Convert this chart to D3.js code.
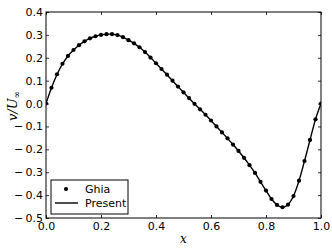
<!DOCTYPE html>
<html>
<head>
<meta charset="utf-8">
<script src="https://cdn.jsdelivr.net/npm/d3@7"></script>
<style>
  html, body { margin: 0; padding: 0; background: #fff; }
  svg { display: block; }
  .tick text { font-family: "DejaVu Sans", sans-serif; font-size: 11px; fill: #000; }
</style>
</head>
<body>
<svg id="chart" width="332" height="249"></svg>
<script>
// x positions along the horizontal centre line
const ghiaX = [0.00, 0.02, 0.04, 0.06, 0.08, 0.10, 0.12, 0.14, 0.16, 0.18,
               0.20, 0.22, 0.24, 0.26, 0.28, 0.30, 0.32, 0.34, 0.36, 0.38,
               0.40, 0.42, 0.44, 0.46, 0.48, 0.50, 0.52, 0.54, 0.56, 0.58,
               0.60, 0.62, 0.64, 0.66, 0.68, 0.70, 0.72, 0.74, 0.76, 0.78,
               0.80, 0.82, 0.84, 0.86, 0.88, 0.90, 0.92, 0.94, 0.96, 0.98, 1.00];
const ghiaV = [0.000, 0.069, 0.128, 0.174, 0.208, 0.234, 0.255, 0.272, 0.285, 0.294,
               0.300, 0.303, 0.303, 0.299, 0.290, 0.277, 0.263, 0.246, 0.225, 0.201,
               0.176, 0.151, 0.126, 0.100, 0.074, 0.049, 0.024, -0.001, -0.025, -0.049,
               -0.074, -0.100, -0.126, -0.152, -0.179, -0.207, -0.237, -0.269, -0.303, -0.342,
               -0.380, -0.417, -0.443, -0.453, -0.442, -0.404, -0.337, -0.251, -0.159, -0.069, 0.000];

// present solution (fine curve)
const presentX = ghiaX;
const presentV = [0.000, 0.069, 0.127, 0.173, 0.208, 0.234, 0.255, 0.272, 0.285, 0.294,
                  0.300, 0.303, 0.303, 0.299, 0.290, 0.277, 0.263, 0.246, 0.225, 0.201,
                  0.176, 0.151, 0.126, 0.100, 0.074, 0.049, 0.024, -0.001, -0.025, -0.049,
                  -0.074, -0.100, -0.126, -0.152, -0.179, -0.207, -0.237, -0.269, -0.303, -0.342,
                  -0.380, -0.417, -0.443, -0.453, -0.442, -0.404, -0.337, -0.251, -0.159, -0.069, 0.000];

const xTicks = [0.0, 0.2, 0.4, 0.6, 0.8, 1.0];
const yTicks = [-0.5, -0.4, -0.3, -0.2, -0.1, 0.0, 0.1, 0.2, 0.3, 0.4];
const seriesNames = ["Ghia", "Present"];

const svg = d3.select("#chart");
const m = {left: 46, right: 321, top: 12, bottom: 218};

const x = d3.scaleLinear().domain([0, 1]).range([m.left, m.right]);
const y = d3.scaleLinear().domain([-0.5, 0.4]).range([m.bottom, m.top]);

svg.append("rect").attr("width", 332).attr("height", 249).attr("fill", "#fff");

svg.append("clipPath").attr("id", "plot-clip")
    .append("rect")
    .attr("x", m.left).attr("y", m.top)
    .attr("width", m.right - m.left).attr("height", m.bottom - m.top);

// mathtext-style minus sits a little apart from the digits
const fmt = d => d < 0 ? "\u2212\u2009" + d3.format(".1f")(-d) : d3.format(".1f")(d);
const tick = 3;

// axes, ticks pointing inward on all four sides
svg.append("g")
    .attr("transform", `translate(0,${m.bottom})`)
    .call(d3.axisBottom(x).tickValues(xTicks).tickFormat(fmt).tickSizeInner(-tick).tickSizeOuter(0).tickPadding(4))
    .call(g => g.select(".domain").remove());
svg.append("g")
    .attr("transform", `translate(0,${m.top})`)
    .call(d3.axisTop(x).tickValues(xTicks).tickFormat("").tickSizeInner(-tick).tickSizeOuter(0))
    .call(g => g.select(".domain").remove());
svg.append("g")
    .attr("transform", `translate(${m.left},0)`)
    .call(d3.axisLeft(y).tickValues(yTicks).tickFormat(fmt).tickSizeInner(-tick).tickSizeOuter(0).tickPadding(3))
    .call(g => g.select(".domain").remove());
svg.append("g")
    .attr("transform", `translate(${m.right},0)`)
    .call(d3.axisRight(y).tickValues(yTicks).tickFormat("").tickSizeInner(-tick).tickSizeOuter(0))
    .call(g => g.select(".domain").remove());

svg.selectAll(".tick line").attr("stroke", "#000").attr("stroke-width", 0.8);

// plot frame
svg.append("rect")
    .attr("x", m.left).attr("y", m.top)
    .attr("width", m.right - m.left).attr("height", m.bottom - m.top)
    .attr("fill", "none").attr("stroke", "#000").attr("stroke-width", 1);

const plot = svg.append("g").attr("clip-path", "url(#plot-clip)");

const line = d3.line()
    .x((d, i) => x(presentX[i]))
    .y(d => y(d))
    .curve(d3.curveCatmullRom.alpha(0.5));

plot.append("path")
    .datum(presentV)
    .attr("d", line)
    .attr("fill", "none")
    .attr("stroke", "#000")
    .attr("stroke-width", 1.4);

plot.selectAll("circle.ghia")
    .data(ghiaV)
    .join("circle")
    .attr("class", "ghia")
    .attr("cx", (d, i) => x(ghiaX[i]))
    .attr("cy", d => y(d))
    .attr("r", 2.1)
    .attr("fill", "#000");

// axis labels
svg.append("text")
    .attr("x", (m.left + m.right) / 2).attr("y", 243)
    .attr("text-anchor", "middle")
    .style("font-family", "'DejaVu Serif', serif")
    .style("font-style", "italic")
    .style("font-size", "12px")
    .text("x");

const yl = svg.append("text")
    .attr("transform", `translate(16.5,106) rotate(-90)`)
    .attr("text-anchor", "middle")
    .style("font-family", "'DejaVu Serif', serif")
    .style("font-style", "italic")
    .style("font-size", "13px");
yl.append("tspan").text("v/U");
yl.append("tspan").attr("dy", 3).style("font-size", "9px").text("∞");

// legend
const lg = svg.append("g");
lg.append("rect")
    .attr("x", 51).attr("y", 180).attr("width", 77).attr("height", 34)
    .attr("fill", "#fff").attr("stroke", "#000").attr("stroke-width", 1);
lg.append("circle").attr("cx", 66).attr("cy", 189).attr("r", 2.1).attr("fill", "#000");
lg.append("line").attr("x1", 55).attr("x2", 78).attr("y1", 203).attr("y2", 203)
    .attr("stroke", "#000").attr("stroke-width", 1.4);
lg.selectAll("text.lab")
    .data(seriesNames)
    .join("text")
    .attr("class", "lab")
    .attr("x", 85)
    .attr("y", (d, i) => 189 + i * 14)
    .attr("dy", "0.35em")
    .style("font-family", "'DejaVu Sans', sans-serif")
    .style("font-size", "11px")
    .text(d => d);
</script>
</body>
</html>
